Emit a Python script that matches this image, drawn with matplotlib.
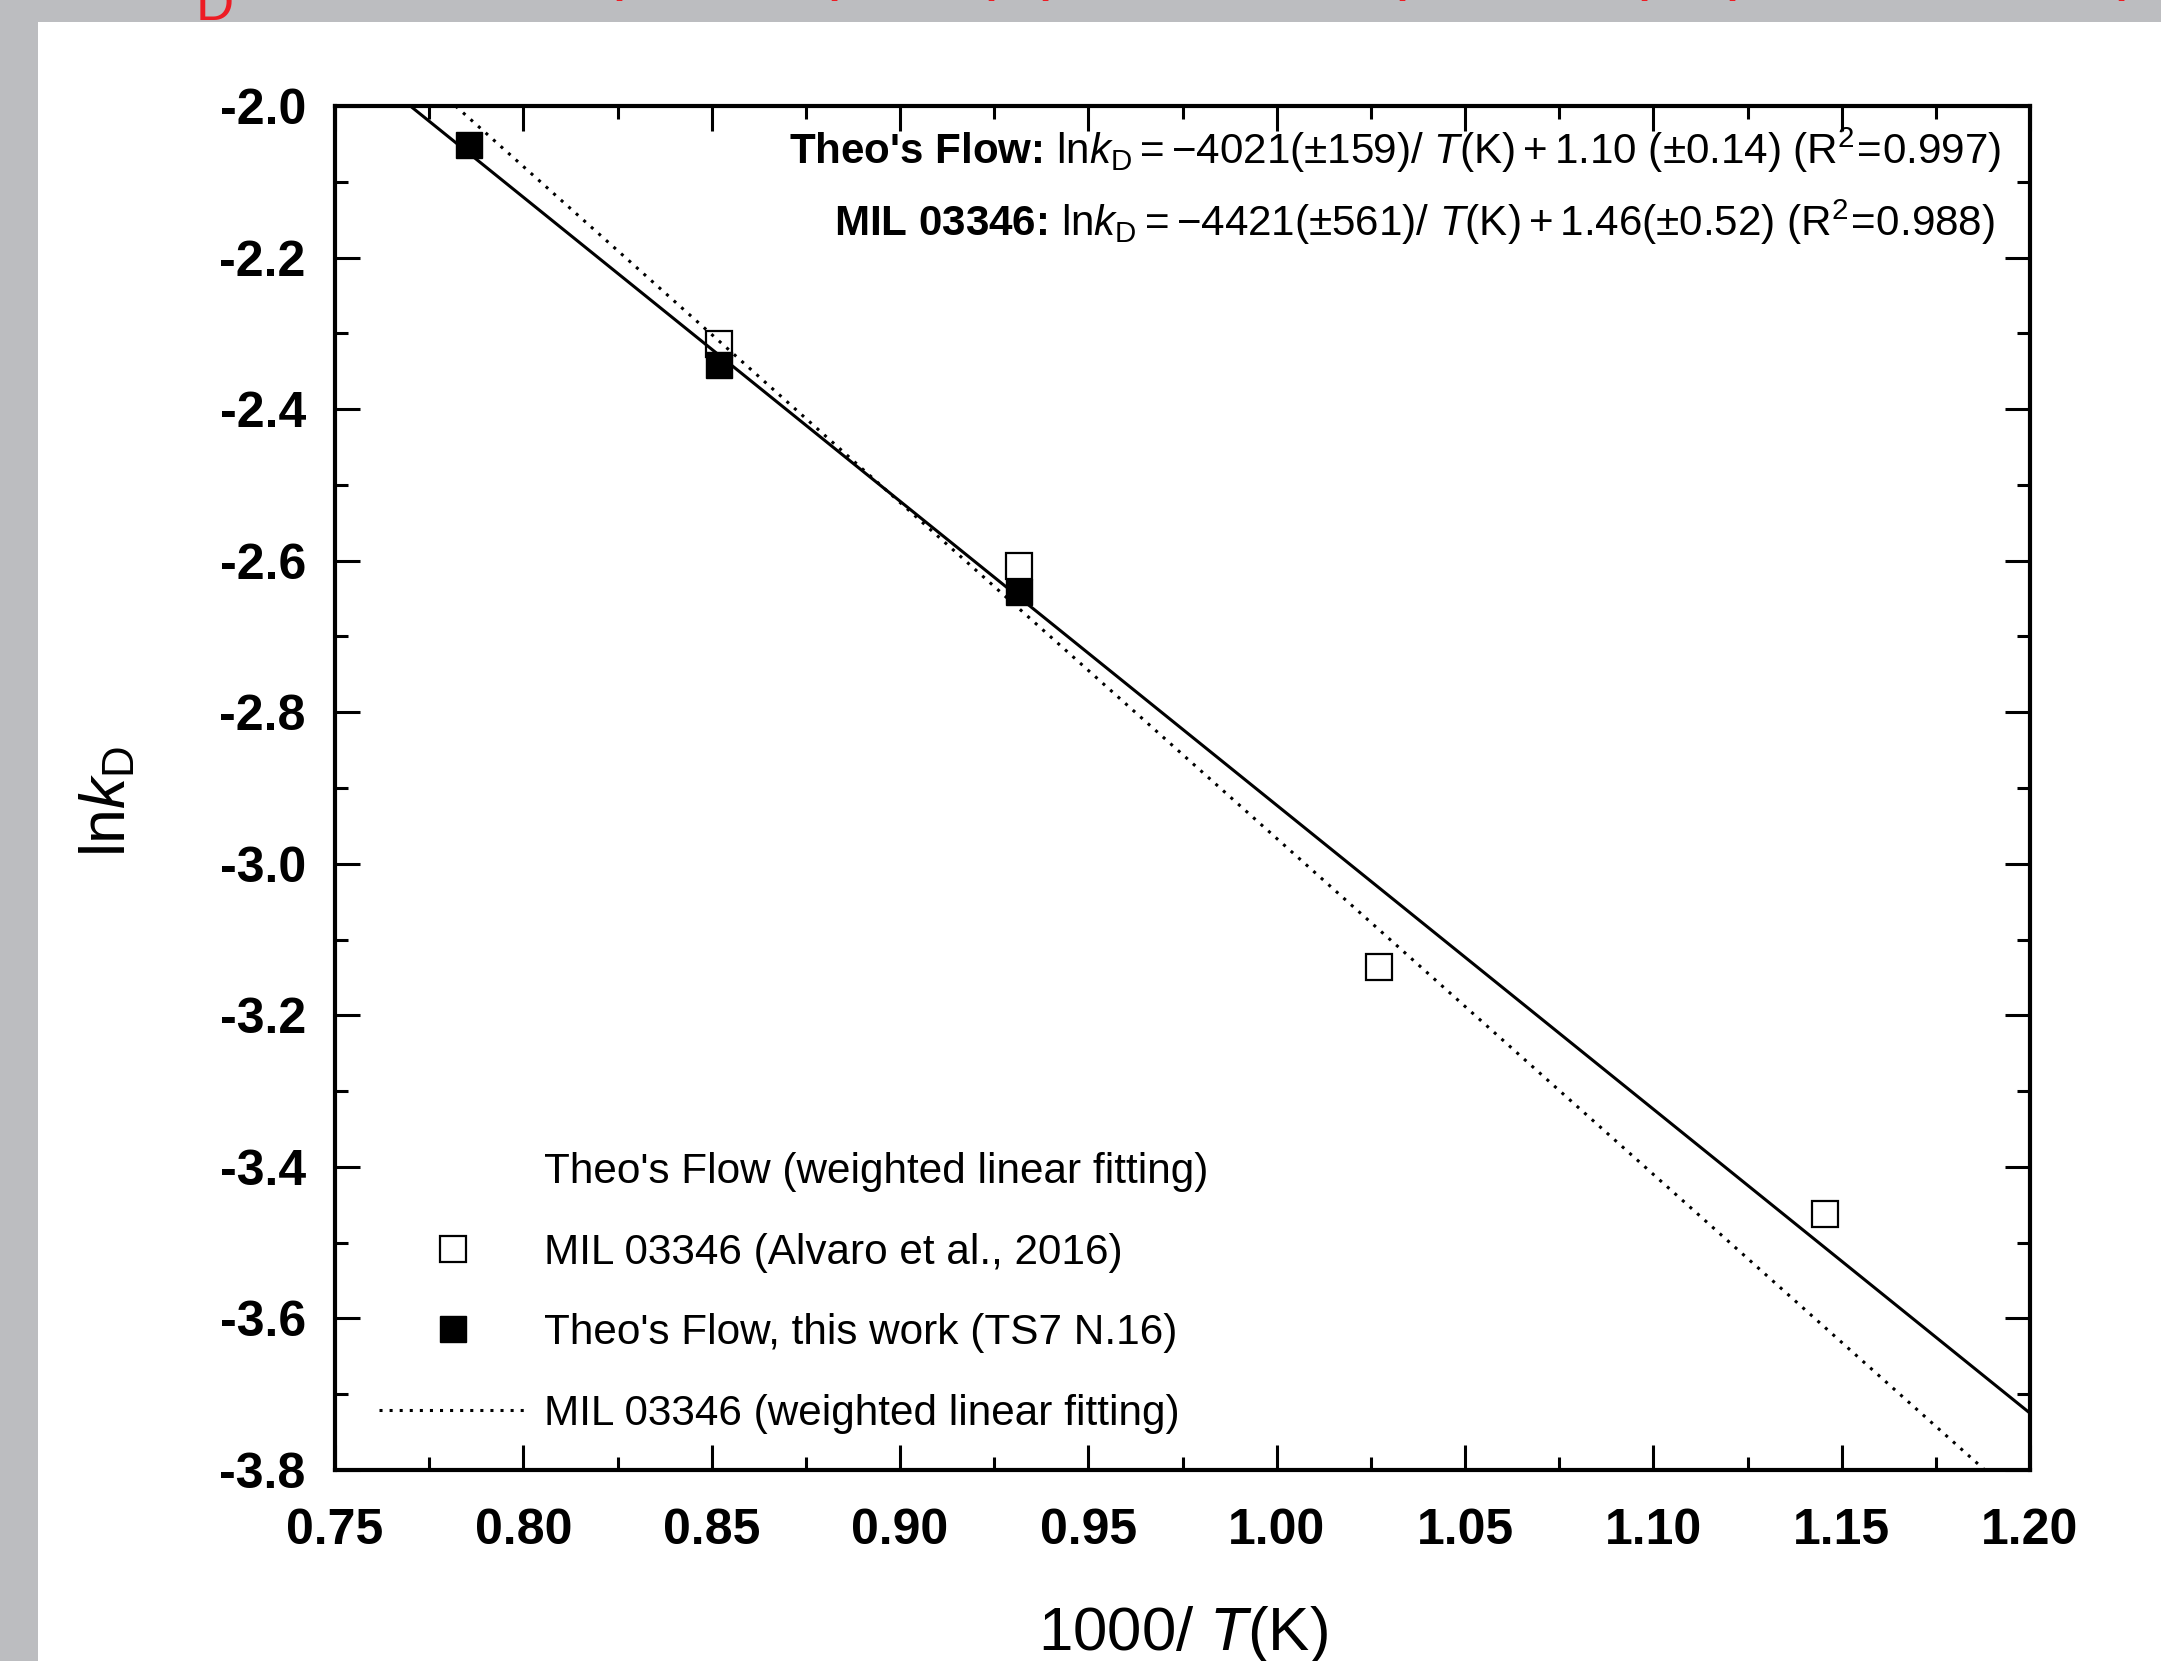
import matplotlib
matplotlib.use("Agg")
import matplotlib.pyplot as plt
from matplotlib.lines import Line2D
from matplotlib.patches import Rectangle
from matplotlib.ticker import MultipleLocator, FormatStrFormatter

plt.rcParams['font.family'] = ['Liberation Sans', 'DejaVu Sans']
plt.rcParams['axes.unicode_minus'] = False
plt.rcParams['mathtext.fontset'] = 'custom'
plt.rcParams['mathtext.rm'] = 'Liberation Sans'
plt.rcParams['mathtext.it'] = 'Liberation Sans:italic'
plt.rcParams['mathtext.bf'] = 'Liberation Sans:bold'

# MIL 03346 (Alvaro et al., 2016)
mil_x = [0.852, 0.9315, 1.0273, 1.1455]
mil_y = [-2.314, -2.607, -3.136, -3.462]

# Theo's Flow, this work (TS7 N.16)
theo_x = [0.7855, 0.852, 0.9315]
theo_y = [-2.051, -2.342, -2.642]

# weighted linear fits, end points
theo_fit_x = [0.770, 1.200]
theo_fit_y = [-2.000, -3.725]
mil_fit_x = [0.782, 1.188]
mil_fit_y = [-2.000, -3.800]

legend_labels = ["Theo's Flow (weighted linear fitting)",
                 "MIL 03346 (Alvaro et al., 2016)",
                 "Theo's Flow, this work (TS7 N.16)",
                 "MIL 03346 (weighted linear fitting)"]

eq_theo = (r"Theo's Flow: $\mathrm{ln}\mathit{k}_\mathrm{D} = \mathrm{-4021(\pm159)/}\ "
           r"\mathit{T}\mathrm{(K)} + \mathrm{1.10\ (\pm0.14)\ (R^2\!=\!0.997)}$")
eq_mil = (r"MIL 03346: $\mathrm{ln}\mathit{k}_\mathrm{D} = \mathrm{-4421(\pm561)/}\ "
          r"\mathit{T}\mathrm{(K)} + \mathrm{1.46(\pm0.52)\ (R^2\!=\!0.988)}$")

# red fragments of the caption cut off at the top of the screenshot
red_frag_x = [612, 842, 984, 1053, 1395, 1652, 1725, 2129]
red_frag_txt = ["(", ")", "(", ")", "(", ")", "(", ")"]


def main() -> None:
    W, H = 2161, 1661
    fig = plt.figure(figsize=(W / 100, H / 100), dpi=100, facecolor='#bcbdc0')
    fig.patches.append(Rectangle((38 / W, 0), 1 - 38 / W, (H - 22) / H,
                                 transform=fig.transFigure, facecolor='white',
                                 edgecolor='none', zorder=-1))

    fig.text(196 / W, (H - 20) / H, "D", color='#ed1c24', fontsize=38,
             va='baseline', ha='left')
    for x, t in zip(red_frag_x, red_frag_txt):
        fig.text(x / W, (H + 13) / H, t, color='#ed1c24', fontsize=48,
                 va='baseline', ha='center')

    ax = fig.add_axes([335 / W, (H - 1470) / H, (2030 - 335) / W, (1470 - 106) / H])
    ax.set_facecolor('white')

    ax.plot(theo_fit_x, theo_fit_y, color='k', lw=2.2, zorder=2)
    ax.plot(mil_fit_x, mil_fit_y, color='k', lw=2.2, ls=(0, (1, 2.3)), zorder=2)
    ax.plot(mil_x, mil_y, ls='none', marker='s', ms=19, mfc='none', mec='k',
            mew=1.6, zorder=3)
    ax.plot(theo_x, theo_y, ls='none', marker='s', ms=19, color='k', zorder=4)

    ax.set_xlim(0.75, 1.20)
    ax.set_ylim(-3.8, -2.0)
    ax.xaxis.set_major_locator(MultipleLocator(0.05))
    ax.xaxis.set_minor_locator(MultipleLocator(0.025))
    ax.yaxis.set_major_locator(MultipleLocator(0.2))
    ax.yaxis.set_minor_locator(MultipleLocator(0.1))
    ax.xaxis.set_major_formatter(FormatStrFormatter('%.2f'))
    ax.yaxis.set_major_formatter(FormatStrFormatter('%.1f'))

    for s in ax.spines.values():
        s.set_linewidth(3)
    ax.tick_params(which='both', direction='in', top=True, right=True, width=2.2)
    ax.tick_params(which='major', length=18)
    ax.tick_params(which='minor', length=9.5)
    ax.tick_params(axis='x', which='major', pad=27, labelsize=36)
    ax.tick_params(axis='y', which='major', pad=21, labelsize=36)
    for lab in ax.get_xticklabels() + ax.get_yticklabels():
        lab.set_fontweight('bold')

    ax.set_xlabel(r"1000/ $\mathit{T}$(K)", fontsize=44.5)
    ax.xaxis.set_label_coords(0.5, -0.098)
    ax.set_ylabel(r"ln$\mathit{k}_\mathrm{D}$", fontsize=45)
    ax.yaxis.set_label_coords(-0.116, 0.49)

    ax.text(0.983, 0.9575, eq_theo, transform=ax.transAxes, ha='right',
            va='baseline', fontsize=30.3, fontweight='bold')
    ax.text(0.979, 0.9047, eq_mil, transform=ax.transAxes, ha='right',
            va='baseline', fontsize=30.3, fontweight='bold')

    handles = [Line2D([], [], ls='none', marker='none'),
               Line2D([], [], ls='none', marker='s', ms=19, mfc='none', mec='k', mew=1.6),
               Line2D([], [], ls='none', marker='s', ms=19, color='k'),
               Line2D([], [], ls=(0, (1, 2.3)), lw=2.2, color='k')]
    ax.legend(handles, legend_labels, loc='upper left', bbox_to_anchor=(0.026, 0.233),
              frameon=False, fontsize=30.4, handlelength=3.52, handletextpad=0.38,
              labelspacing=0.96, borderpad=0, borderaxespad=0, numpoints=1)

    fig.savefig("out.png", dpi=100, facecolor=fig.get_facecolor())


if __name__ == "__main__":
    main()
